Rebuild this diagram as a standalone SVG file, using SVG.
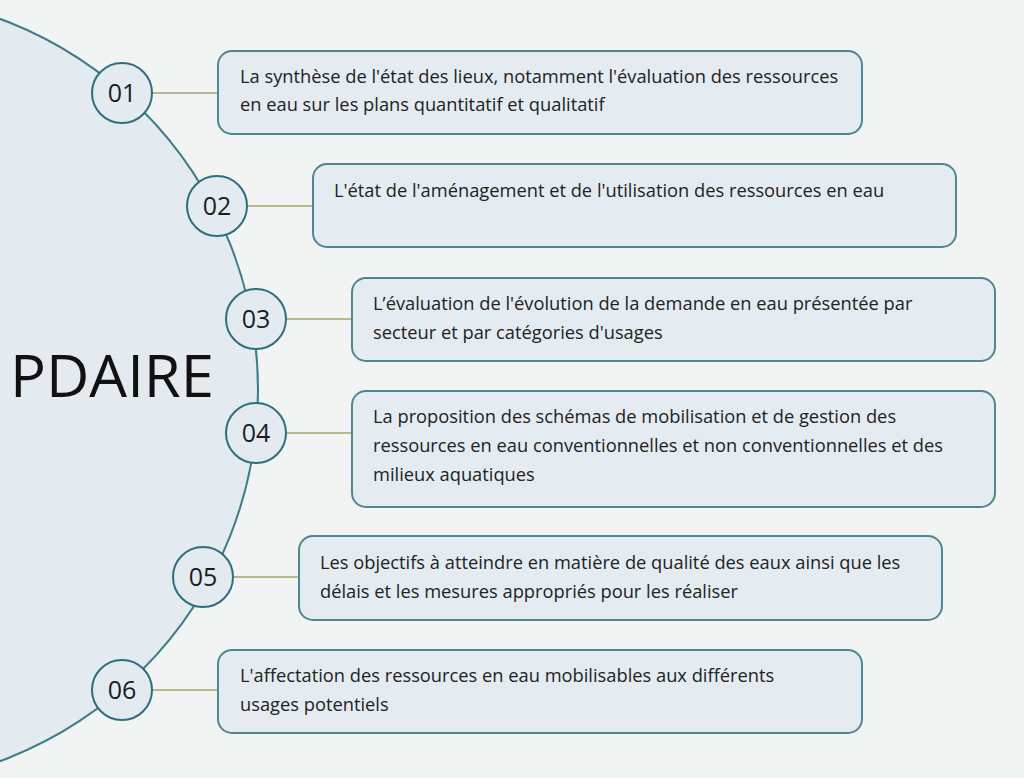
<svg xmlns="http://www.w3.org/2000/svg" width="1024" height="778" viewBox="0 0 1024 778">
<style>
.bg{fill:#f2f3f3}
.big{fill:#e3eaf0;stroke:#3b7d89;stroke-width:2}
.badge{fill:#e3ebf1;stroke:#2d6f7d;stroke-width:2}
.num{font-family:"Open Sans","Liberation Sans",sans-serif;font-size:25px;fill:#1c1c1c;text-anchor:middle}
.box{fill:#e4ecf1;stroke:#4d8792;stroke-width:2}
.t{font-family:"Open Sans","Liberation Sans",sans-serif;font-size:18.3px;fill:#222}
.conn{stroke:#a3a56b;stroke-width:1.5;fill:none}
.title{font-family:"Open Sans","Liberation Sans",sans-serif;font-size:58px;fill:#111}
</style>
<rect class="bg" width="1024" height="778"/>
<circle class="big" cx="-138" cy="390" r="396"/>
<text class="title" x="10" y="397" textLength="204" lengthAdjust="spacingAndGlyphs">PDAIRE</text>
<g id="connectors">
<line class="conn" x1="152" y1="93" x2="218" y2="93"/>
<line class="conn" x1="247" y1="206" x2="313" y2="206"/>
<line class="conn" x1="286" y1="319" x2="352" y2="319"/>
<line class="conn" x1="286" y1="433" x2="352" y2="433"/>
<line class="conn" x1="233" y1="577" x2="299" y2="577"/>
<line class="conn" x1="152" y1="690" x2="218" y2="690"/>
</g>
<g id="node1">
<circle class="badge" cx="122" cy="93" r="30"/><text class="num" x="122" y="102">01</text>
<rect class="box" x="218" y="51" width="644" height="83" rx="14"/>
<text class="t" x="240" y="83">La synthèse de l'état des lieux, notamment l'évaluation des ressources</text>
<text class="t" x="240" y="111">en eau sur les plans quantitatif et qualitatif</text>
</g>
<g id="node2">
<circle class="badge" cx="217" cy="206" r="30"/><text class="num" x="217" y="215">02</text>
<rect class="box" x="313" y="164" width="643" height="83" rx="14"/>
<text class="t" x="334" y="197">L'état de l'aménagement et de l'utilisation des ressources en eau</text>
</g>
<g id="node3">
<circle class="badge" cx="256" cy="319" r="30"/><text class="num" x="256" y="328">03</text>
<rect class="box" x="352" y="278" width="643" height="83" rx="14"/>
<text class="t" x="373" y="310">L’évaluation de l'évolution de la demande en eau présentée par</text>
<text class="t" x="373" y="339">secteur et par catégories d'usages</text>
</g>
<g id="node4">
<circle class="badge" cx="256" cy="433" r="30"/><text class="num" x="256" y="442">04</text>
<rect class="box" x="352" y="391" width="643" height="116" rx="14"/>
<text class="t" x="373" y="423">La proposition des schémas de mobilisation et de gestion des</text>
<text class="t" x="373" y="452">ressources en eau conventionnelles et non conventionnelles et des</text>
<text class="t" x="373" y="481">milieux aquatiques</text>
</g>
<g id="node5">
<circle class="badge" cx="203" cy="577" r="30"/><text class="num" x="203" y="586">05</text>
<rect class="box" x="299" y="536" width="643" height="84" rx="14"/>
<text class="t" x="320" y="569">Les objectifs à atteindre en matière de qualité des eaux ainsi que les</text>
<text class="t" x="320" y="598">délais et les mesures appropriés pour les réaliser</text>
</g>
<g id="node6">
<circle class="badge" cx="122" cy="690" r="30"/><text class="num" x="122" y="699">06</text>
<rect class="box" x="218" y="650" width="644" height="83" rx="14"/>
<text class="t" x="240" y="682">L'affectation des ressources en eau mobilisables aux différents</text>
<text class="t" x="240" y="711">usages potentiels</text>
</g>
</svg>
